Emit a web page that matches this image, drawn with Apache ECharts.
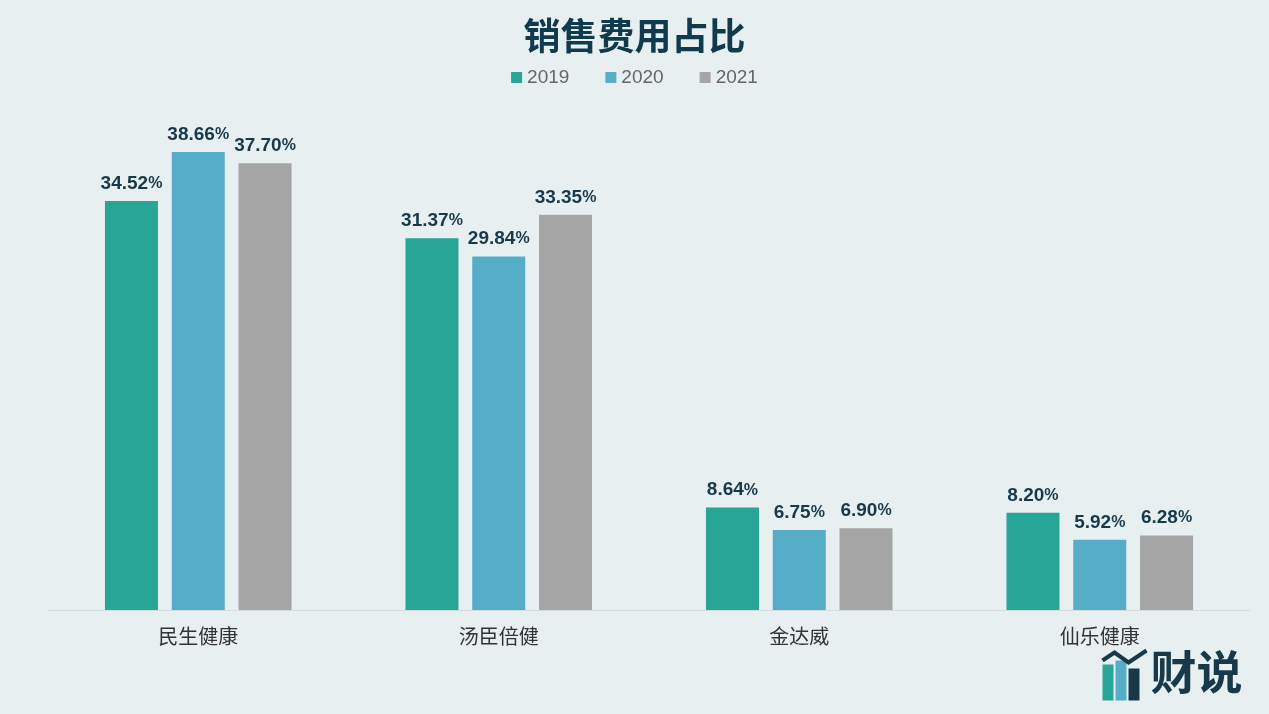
<!DOCTYPE html>
<html><head><meta charset="utf-8">
<script src="https://cdn.jsdelivr.net/npm/echarts@6/dist/echarts.min.js"></script>
<style>html,body{margin:0;padding:0;background:#e8eff1;}#c{width:1269px;height:714px;}</style>
</head><body><div id="c"></div>
<script>
const categories = ['民生健康','汤臣倍健','金达威','仙乐健康'];
const s2019 = [34.52, 31.37, 8.64, 8.20];
const s2020 = [38.66, 29.84, 6.75, 5.92];
const s2021 = [37.70, 33.35, 6.90, 6.28];
const seriesNames = ['2019','2020','2021'];
const colors = ['#27a597','#56adc7','#a5a5a5'];

const chart = echarts.init(document.getElementById('c'));
const label = {
  show: true, position: 'top', distance: 8,
  formatter: p => '{n|' + p.value.toFixed(2) + '}{p|%}',
  rich: {
    n: {fontSize: 19, fontWeight: 'bold', color: '#17394a', fontFamily: 'Liberation Sans, Arial'},
    p: {fontSize: 16, fontWeight: 'bold', color: '#17394a', fontFamily: 'Liberation Sans, Arial'}
  }
};
const data = [s2019, s2020, s2021];
chart.setOption({
  backgroundColor: '#e8eff1',
  title: {text: '销售费用占比', left: 'center', top: 12,
    textStyle: {fontSize: 37, fontWeight: 'bold', color: '#0f3b4c', fontFamily: 'Noto Sans CJK SC'}},
  legend: {data: seriesNames, top: 63, left: 'center', itemWidth: 11, itemHeight: 11, itemGap: 36,
    icon: 'rect', textStyle: {fontSize: 19, color: '#666', fontFamily: 'Liberation Sans, Arial'}},
  grid: {left: 48, right: 19, top: 136, bottom: 104},
  xAxis: {type: 'category', data: categories,
    axisLine: {lineStyle: {color: '#d5dcdf', width: 1}}, axisTick: {show: false},
    axisLabel: {fontSize: 20, color: '#333', margin: 16, fontFamily: 'Noto Sans CJK SC'}},
  yAxis: {type: 'value', min: 0, max: 40, show: false, splitLine: {show: false}},
  series: seriesNames.map((n, i) => ({
    name: n, type: 'bar', data: data[i], barWidth: 53, barGap: '26%',
    itemStyle: {color: colors[i]}, label: label
  })),
  graphic: [
    {type: 'group', left: 1100, top: 648, children: [
      {type: 'rect', shape: {x: 0, y: 14, width: 11, height: 36}, style: {fill: '#27a597'}},
      {type: 'rect', shape: {x: 13, y: 10, width: 11, height: 40}, style: {fill: '#56adc7'}},
      {type: 'rect', shape: {x: 26, y: 18, width: 11, height: 32}, style: {fill: '#17394a'}},
      {type: 'polyline', shape: {points: [[0, 10], [12, 2], [26, 12], [44, 0]]}, style: {stroke: '#17394a', lineWidth: 4, fill: null}},
      {type: 'text', style: {x: 48, y: -2, text: '财说', font: 'bold 46px "Noto Sans CJK SC"', fill: '#17394a'}}
    ]}
  ]
});
</script></body></html>
